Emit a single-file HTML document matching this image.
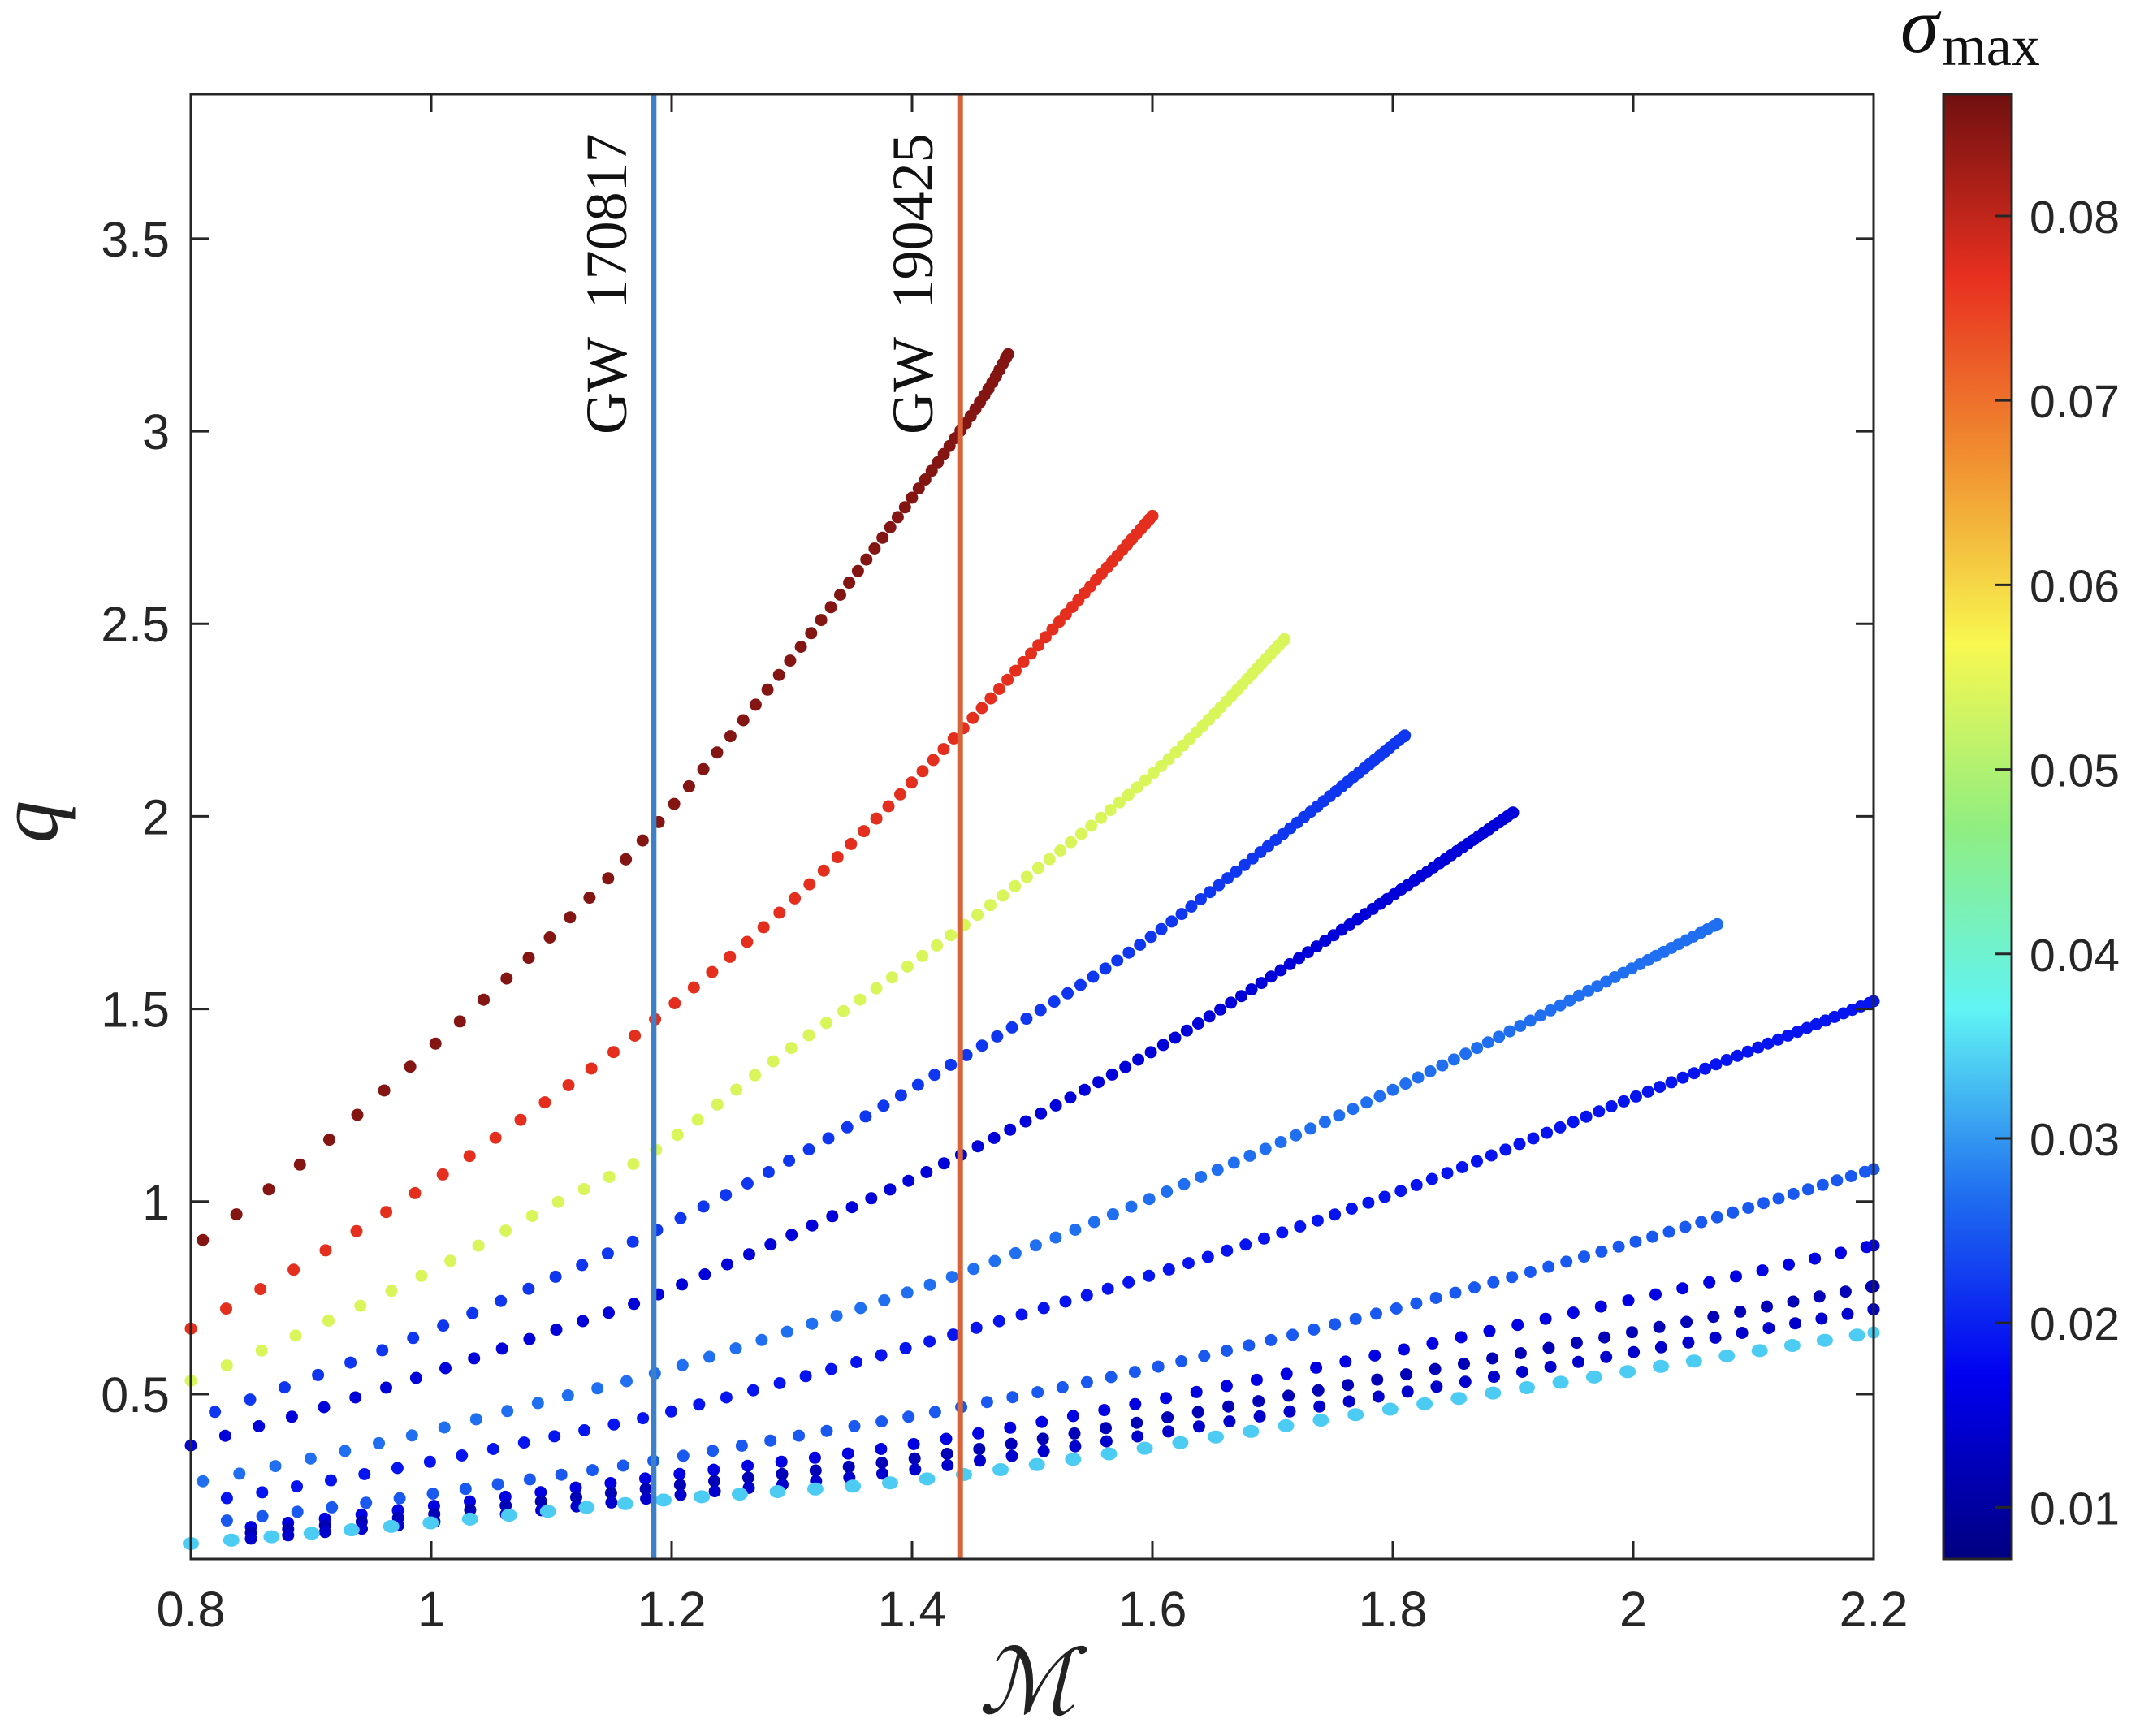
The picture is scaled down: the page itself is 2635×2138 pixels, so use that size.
<!DOCTYPE html>
<html><head><meta charset="utf-8">
<style>
html,body{margin:0;padding:0;background:#fff;}
svg{display:block;}
.tick{font-family:"Liberation Sans",Arial,sans-serif;font-size:61px;fill:#262626;}
.cbt{font-family:"Liberation Sans",Arial,sans-serif;font-size:57px;fill:#262626;}
.serif{font-family:"Liberation Serif","DejaVu Serif",serif;}
</style></head>
<body>
<svg id="chart" width="2635" height="2138" viewBox="0 0 2635 2138" xmlns="http://www.w3.org/2000/svg">
<defs>
<linearGradient id="jet" x1="0" y1="1" x2="0" y2="0">
<stop offset="0" stop-color="#000080"/>
<stop offset="0.125" stop-color="#0000f0"/>
<stop offset="0.25" stop-color="#2070f0"/>
<stop offset="0.375" stop-color="#60f4f4"/>
<stop offset="0.5" stop-color="#90ee80"/>
<stop offset="0.625" stop-color="#f8f850"/>
<stop offset="0.75" stop-color="#f09030"/>
<stop offset="0.875" stop-color="#e83020"/>
<stop offset="1" stop-color="#701010"/>
</linearGradient>
</defs>
<rect x="235" y="116" width="2072" height="1804" fill="#fff"/>
<g id="dots"></g>
<g id="events"></g>
<g id="axes"></g>
<g id="cbar"></g>
</svg>
<script>
// ---- data ----
const xTicks = [0.8, 1, 1.2, 1.4, 1.6, 1.8, 2, 2.2];
const xTickLabels = ["0.8", "1", "1.2", "1.4", "1.6", "1.8", "2", "2.2"];
const yTicks = [0.5, 1, 1.5, 2, 2.5, 3, 3.5];
const yTickLabels = ["0.5", "1", "1.5", "2", "2.5", "3", "3.5"];
const cbTicks = [0.01, 0.02, 0.03, 0.04, 0.05, 0.06, 0.07, 0.08];
const cbTickLabels = ["0.01", "0.02", "0.03", "0.04", "0.05", "0.06", "0.07", "0.08"];
const eventNames = ["GW  170817", "GW  190425"];
const eventM = [1.185, 1.44];

const m1 = [0.81, 0.9, 1.0, 1.1, 1.185, 1.3, 1.44, 1.48];
const q1 = [0.9, 1.12, 1.40, 1.69, 1.97, 2.41, 3.0, 3.2];
const m2 = [0.8, 0.9, 1.0, 1.1, 1.185, 1.3, 1.44, 1.6];
const q2 = [0.67, 0.85, 1.05, 1.27, 1.47, 1.78, 2.22, 2.78];
const m3 = [0.8, 0.9, 1.0, 1.1, 1.185, 1.3, 1.44, 1.6, 1.71];
const q3 = [0.535, 0.67, 0.82, 0.99, 1.13, 1.40, 1.71, 2.11, 2.46];
const m4 = [0.82, 0.9, 1.0, 1.1, 1.185, 1.3, 1.44, 1.6, 1.81];
const q4 = [0.454, 0.543, 0.665, 0.80, 0.922, 1.11, 1.37, 1.69, 2.21];
const m5 = [0.8, 0.9, 1.0, 1.1, 1.185, 1.3, 1.44, 1.6, 1.75, 1.9];
const q5 = [0.367, 0.456, 0.555, 0.663, 0.754, 0.914, 1.12, 1.39, 1.69, 2.01];
const m6 = [0.81, 0.9, 1.0, 1.1, 1.185, 1.3, 1.44, 1.6, 1.8, 2.07];
const q6 = [0.274, 0.333, 0.405, 0.486, 0.553, 0.666, 0.812, 1.01, 1.29, 1.72];
const m7 = [0.83, 0.9, 1.0, 1.1, 1.185, 1.3, 1.44, 1.6, 1.8, 2.0, 2.2];
const q7 = [0.23, 0.267, 0.325, 0.389, 0.444, 0.537, 0.66, 0.81, 1.02, 1.27, 1.52];
const m8 = [0.83, 0.9, 1.0, 1.1, 1.185, 1.3, 1.44, 1.6, 1.8, 2.0, 2.2];
const q8 = [0.172, 0.199, 0.241, 0.287, 0.327, 0.389, 0.466, 0.568, 0.72, 0.894, 1.084];
const m9 = [0.85, 1.0, 1.2, 1.44, 1.8, 2.2];
const q9 = [0.155, 0.209, 0.29, 0.39, 0.61, 0.886];
const m10 = [0.85, 1.0, 1.2, 1.44, 1.8, 2.2];
const q10 = [0.14, 0.188, 0.262, 0.35, 0.545, 0.78];
const m11 = [0.85, 1.0, 1.2, 1.44, 1.8, 2.2];
const q11 = [0.125, 0.168, 0.236, 0.32, 0.50, 0.72];
const m12 = [0.8, 1.0, 1.2, 1.44, 1.8, 2.2];
const q12 = [0.112, 0.166, 0.227, 0.29, 0.462, 0.66];
const sigmaMax = [0.085, 0.077, 0.055, 0.022, 0.015, 0.027, 0.019, 0.025, 0.016, 0.012, 0.014, 0.034];

// ---- scales ----
const X0 = 235, X1 = 2307, Y0 = 1920, Y1 = 116;
const xMin = 0.8, xMax = 2.2, yMin = 0.072, yMax = 3.875;
const cbMin = 0.0072, cbMax = 0.0866, CBX = 2393, CBW = 84;
function sx(v){ return X0 + (v - xMin) / (xMax - xMin) * (X1 - X0); }
function sy(v){ return Y0 - (v - yMin) / (yMax - yMin) * (Y0 - Y1); }
function scb(v){ return Y0 - (v - cbMin) / (cbMax - cbMin) * (Y0 - Y1); }

const NS = "http://www.w3.org/2000/svg";
function mk(tag, parent, attrs){ const e = document.createElementNS(NS, tag); for (const k in attrs) e.setAttribute(k, attrs[k]); parent.appendChild(e); return e; }

const cmStops = [[0,[0,0,128]],[0.125,[0,0,240]],[0.25,[32,112,240]],[0.375,[96,244,244]],[0.5,[144,238,128]],[0.625,[232,246,80]],[0.75,[240,144,48]],[0.875,[232,48,32]],[1,[112,16,16]]];
function cmap(v){
  let f = Math.max(0, Math.min(1, (v - cbMin) / (cbMax - cbMin)));
  for (let i = 1; i < cmStops.length; i++){
    if (f <= cmStops[i][0]){
      const a = cmStops[i-1], b = cmStops[i], t = (f - a[0]) / (b[0] - a[0]);
      const c = a[1].map((x, j) => Math.round(x + (b[1][j] - x) * t));
      return "rgb(" + c.join(",") + ")";
    }
  }
  return "rgb(112,16,16)";
}

// ---- series ----
const dotsG = document.getElementById("dots");
const allM = [m1,m2,m3,m4,m5,m6,m7,m8,m9,m10,m11,m12];
const allQ = [q1,q2,q3,q4,q5,q6,q7,q8,q9,q10,q11,q12];
const spacing0 = [52,50,48,46,44,46,44,44,46,46,46,50];
const densify = [0.85,0.85,0.85,0.85,0.85,0.8,0.75,0.6,0.3,0.3,0.3,0.2];
allM.forEach(function(ms, ci){
  const qs = allQ[ci];
  const pts = ms.map((m, i) => [sx(m), sy(qs[i])]);
  let d = "M" + pts[0][0] + "," + pts[0][1];
  for (let i = 0; i < pts.length - 1; i++){
    const p0 = pts[Math.max(0, i-1)], p1 = pts[i], p2 = pts[i+1], p3 = pts[Math.min(pts.length-1, i+2)];
    const c1 = [p1[0] + (p2[0]-p0[0])/6, p1[1] + (p2[1]-p0[1])/6];
    const c2 = [p2[0] - (p3[0]-p1[0])/6, p2[1] - (p3[1]-p1[1])/6];
    d += " C" + c1[0] + "," + c1[1] + " " + c2[0] + "," + c2[1] + " " + p2[0] + "," + p2[1];
  }
  const path = mk("path", dotsG, {d: d, fill: "none", stroke: "none"});
  
  
  const L = path.getTotalLength();
  const col = cmap(sigmaMax[ci]);
  const g = mk("g", dotsG, {fill: col});
  
  
  let s = 0;
  const cyan = ci === 11;
  while (s <= L){
    const p = path.getPointAtLength(s);
    const c = mk("ellipse", g, {cx: p.x.toFixed(1), cy: p.y.toFixed(1), rx: cyan ? 10 : 7.5, ry: cyan ? 8 : 7.5});
    
    
    const t = s / L;
    s += Math.max(5, spacing0[ci] * (1 - densify[ci] * t));
  }
  const pe = path.getPointAtLength(L);
  const ce = mk("circle", g, {cx: pe.x.toFixed(1), cy: pe.y.toFixed(1), r: 7.5});
  
  
});

// ---- event lines ----
const evG = document.getElementById("events");
const evColors = ["#3b80c8", "#d9643a"];
eventM.forEach(function(m, i){
  const x = sx(m);
  const ln = mk("line", evG, {x1: x, x2: x, y1: Y1, y2: Y0, stroke: evColors[i], "stroke-width": 7});
  
  
  const tx = mk("text", evG, {x: 0, y: 0, transform: "translate(" + (x - 34) + ",535) rotate(-90)", class: "serif", "font-size": 72, fill: "#111"});
  
  
  tx.setAttribute("xml:space", "preserve");
  tx.style.whiteSpace = "pre";
  tx.textContent = eventNames[i];
});

// ---- axes ----
const ax = document.getElementById("axes");
const box = mk("rect", ax, {x: X0, y: Y1, width: X1 - X0, height: Y0 - Y1, fill: "none", stroke: "#262626", "stroke-width": 3});


xTicks.forEach(function(v, i){
  const x = sx(v);
  const t1 = mk("line", ax, {x1: x, x2: x, y1: Y0, y2: Y0 - 22, stroke: "#262626", "stroke-width": 3});
  
  
  const t2 = mk("line", ax, {x1: x, x2: x, y1: Y1, y2: Y1 + 22, stroke: "#262626", "stroke-width": 3});
  
  
  const lb = mk("text", ax, {x: x, y: 2003, "text-anchor": "middle", class: "tick"});
  
  
  lb.textContent = xTickLabels[i];
});
yTicks.forEach(function(v, i){
  const y = sy(v);
  const t1 = mk("line", ax, {x1: X0, x2: X0 + 22, y1: y, y2: y, stroke: "#262626", "stroke-width": 3});
  
  
  const t2 = mk("line", ax, {x1: X1, x2: X1 - 22, y1: y, y2: y, stroke: "#262626", "stroke-width": 3});
  
  
  const lb = mk("text", ax, {x: 209, y: y + 22, "text-anchor": "end", class: "tick"});
  
  
  lb.textContent = yTickLabels[i];
});
const xt = mk("text", ax, {x: 1265, y: 2110, "text-anchor": "middle", class: "serif", "font-size": 112, "font-style": "italic", fill: "#222"});


xt.textContent = "ℳ";
const yt = mk("text", ax, {x: 0, y: 0, transform: "translate(70,1012) rotate(-90)", "text-anchor": "middle", class: "serif", "font-size": 105, "font-style": "italic", fill: "#222"});


yt.textContent = "q";

// ---- colorbar ----
const cb = document.getElementById("cbar");
const cbr = mk("rect", cb, {x: CBX, y: Y1, width: CBW, height: Y0 - Y1, fill: "url(#jet)", stroke: "#262626", "stroke-width": 3});


cbTicks.forEach(function(v, i){
  const y = scb(v);
  const t = mk("line", cb, {x1: CBX + CBW - 21, x2: CBX + CBW, y1: y, y2: y, stroke: "#262626", "stroke-width": 3});
  
  
  const lb = mk("text", cb, {x: 2499, y: y + 21, class: "cbt"});
  
  
  lb.textContent = cbTickLabels[i];
});
const ct = mk("text", cb, {x: 2340, y: 64, class: "serif", fill: "#111"});


const ts1 = mk("tspan", ct, {"font-size": 96, "font-style": "italic"});
ts1.textContent = "σ";
const ts2 = mk("tspan", ct, {"font-size": 70, dy: 16, dx: 4});
ts2.textContent = "max";
</script>
</body></html>
